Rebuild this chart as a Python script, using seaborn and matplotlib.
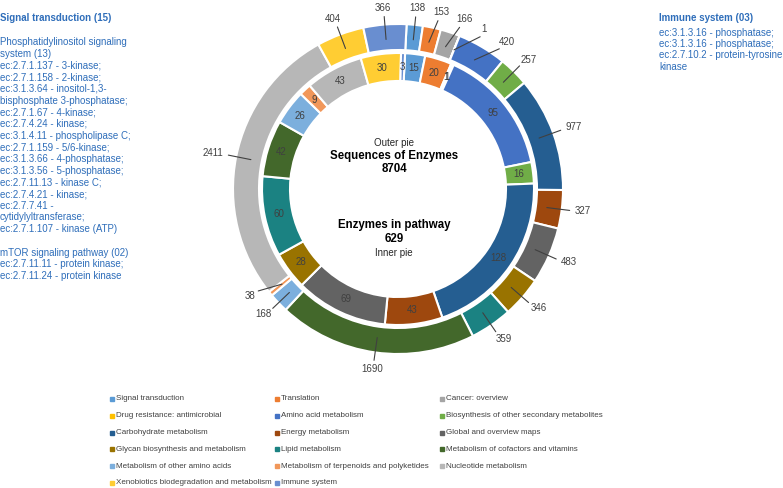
import numpy as np
import matplotlib.pyplot as plt
import seaborn as sns

# ==========================================
# DATA
# ==========================================

categories = [
    "Signal transduction", "Translation", "Cancer: overview",
    "Drug resistance: antimicrobial", "Amino acid metabolism",
    "Biosynthesis of other secondary metabolites", "Carbohydrate metabolism",
    "Energy metabolism", "Global and overview maps",
    "Glycan biosynthesis and metabolism", "Lipid metabolism",
    "Metabolism of cofactors and vitamins", "Metabolism of other amino acids",
    "Metabolism of terpenoids and polyketides", "Nucleotide metabolism",
    "Xenobiotics biodegradation and metabolism", "Immune system",
]

# outer pie: sequences of enzymes (total 8704)
outer_sequences = [138, 153, 166, 1, 420, 257, 977, 327, 483, 346, 359,
                   1690, 168, 38, 2411, 404, 366]

# inner pie: enzymes in pathway (total 629)
inner_enzymes = [15, 20, 1, 1, 95, 16, 128, 43, 69, 28, 60, 42, 26, 9, 43,
                 30, 3]

colors = [
    "#5B9BD5", "#ED7D31", "#A5A5A5", "#FFC000", "#4472C4", "#70AD47",
    "#255E91", "#9E480E", "#636363", "#997300", "#1B8282", "#43682B",
    "#7CAFDD", "#F1975A", "#B7B7B7", "#FFCD33", "#698ED0",
]

left_title = "Signal transduction (15)"
left_lines = [
    "Phosphatidylinositol signaling",
    "system (13)",
    "ec:2.7.1.137 - 3-kinase;",
    "ec:2.7.1.158 - 2-kinase;",
    "ec:3.1.3.64 - inositol-1,3-",
    "bisphosphate 3-phosphatase;",
    "ec:2.7.1.67 - 4-kinase;",
    "ec:2.7.4.24 - kinase;",
    "ec:3.1.4.11 - phospholipase C;",
    "ec:2.7.1.159 - 5/6-kinase;",
    "ec:3.1.3.66 - 4-phosphatase;",
    "ec:3.1.3.56 - 5-phosphatase;",
    "ec:2.7.11.13 - kinase C;",
    "ec:2.7.4.21 - kinase;",
    "ec:2.7.7.41 -",
    "cytidylyltransferase;",
    "ec:2.7.1.107 - kinase (ATP)",
    "",
    "mTOR signaling pathway (02)",
    "ec:2.7.11.11 - protein kinase;",
    "ec:2.7.11.24 - protein kinase",
]

right_title = "Immune system (03)"
right_lines = [
    "ec:3.1.3.16 - phosphatase;",
    "ec:3.1.3.16 - phosphatase;",
    "ec:2.7.10.2 - protein-tyrosine",
    "kinase",
]

# ==========================================
# FIGURE
# ==========================================

sns.set_theme(style="white")
plt.rcParams['font.family'] = ['Liberation Sans', 'DejaVu Sans']

W, H = 783, 488
fig = plt.figure(figsize=(W / 100, H / 100), dpi=100)
ax = fig.add_axes([0, 0, 1, 1])

cx, cy = 398, H - 189
R_OUT, R_IN = 165, 136
START = 87          # first slice begins slightly right of 12 o'clock
ROT = 90 - START    # clockwise offset used for the labels

ax.pie(
    outer_sequences,
    radius=R_OUT,
    center=(cx, cy),
    colors=colors,
    startangle=START,
    counterclock=False,
    wedgeprops=dict(width=26, edgecolor='white', linewidth=1.5)
)
ax.pie(
    inner_enzymes,
    radius=R_IN,
    center=(cx, cy),
    colors=colors,
    startangle=START,
    counterclock=False,
    wedgeprops=dict(width=28, edgecolor='white', linewidth=1.5)
)
ax.set_xlim(0, W)
ax.set_ylim(0, H)
ax.axis('off')

label_color = '#404040'


def polar(theta, r):
    t = np.radians(theta)
    return cx + r * np.sin(t), cy + r * np.cos(t)


def mid_angles(vals):
    vals = np.asarray(vals, dtype=float)
    mids = np.cumsum(vals) - vals / 2
    return mids / vals.sum() * 360 + ROT


# ------------------------------------------
# Outer labels with leader lines
# ------------------------------------------

out_mid = mid_angles(outer_sequences)
out_mid = np.where(out_mid > 270, out_mid - 360, out_mid)
order = np.argsort(out_mid)
lab_ang = out_mid.copy()
min_sep = 7.5
for a, b in zip(order[:-1], order[1:]):
    lab_ang[b] = max(lab_ang[b], lab_ang[a] + min_sep)

for val, m, a in zip(outer_sequences, out_mid, lab_ang):
    x0, y0 = polar(m, 150)
    x1, y1 = polar(a, 173)
    ax.plot([x0, x1], [y0, y1], color=label_color, lw=0.8)
    # push the text box outward so its near edge sits on the anchor
    xa, ya = polar(a, 177)
    hw = 2.8 * len(str(val)) + 1
    hh = 4.5
    t = np.radians(a)
    ax.text(xa + hw * np.sin(t), ya + hh * np.cos(t), str(val),
            ha='center', va='center', fontsize=7, color=label_color)

# ------------------------------------------
# Inner labels
# ------------------------------------------

for val, m in zip(inner_enzymes, mid_angles(inner_enzymes)):
    xt, yt = polar(m, 122)
    ax.text(xt, yt, str(val), ha='center', va='center',
            fontsize=7, color=label_color)

# ------------------------------------------
# Centre text
# ------------------------------------------

tx = 394
ax.text(tx, H - 143, "Outer pie", ha='center', va='center',
        fontsize=7, color='#262626')
ax.text(tx, H - 156, "Sequences of Enzymes", ha='center', va='center',
        fontsize=8.3, fontweight='bold', color='black')
ax.text(tx, H - 169.5, str(sum(outer_sequences)), ha='center', va='center',
        fontsize=8.3, fontweight='bold', color='black')
ax.text(tx, H - 225, "Enzymes in pathway", ha='center', va='center',
        fontsize=8.3, fontweight='bold', color='black')
ax.text(tx, H - 239, str(sum(inner_enzymes)), ha='center', va='center',
        fontsize=8.3, fontweight='bold', color='black')
ax.text(tx, H - 253, "Inner pie", ha='center', va='center',
        fontsize=7, color='#262626')

# ------------------------------------------
# Side annotations
# ------------------------------------------

blue_text = '#2F6EBA'

ax.text(0.5, H - 18, left_title, ha='left', va='center',
        fontsize=7, fontweight='bold', color=blue_text)
for i, line in enumerate(left_lines):
    ax.text(0, H - (42 + 11.7 * i), line, ha='left', va='center',
            fontsize=7, color=blue_text)

ax.text(659, H - 18, right_title, ha='left', va='center',
        fontsize=7, fontweight='bold', color=blue_text)
for i, line in enumerate(right_lines):
    ax.text(659, H - (33 + 11.2 * i), line, ha='left', va='center',
            fontsize=7, color=blue_text)

# ------------------------------------------
# Legend (3 columns, row-major like the source)
# ------------------------------------------

col_x = [112, 277, 442]
for i, (name, c) in enumerate(zip(categories, colors)):
    row, col = divmod(i, 3)
    lx = col_x[col]
    ly = H - (399 + 16.8 * row)
    ax.plot(lx, ly, marker='s', markersize=2.8, color=c, linestyle='none')
    ax.text(lx + 4, ly, name, ha='left', va='center',
            fontsize=5.8, color=label_color)

fig.savefig("out.png", dpi=100)
